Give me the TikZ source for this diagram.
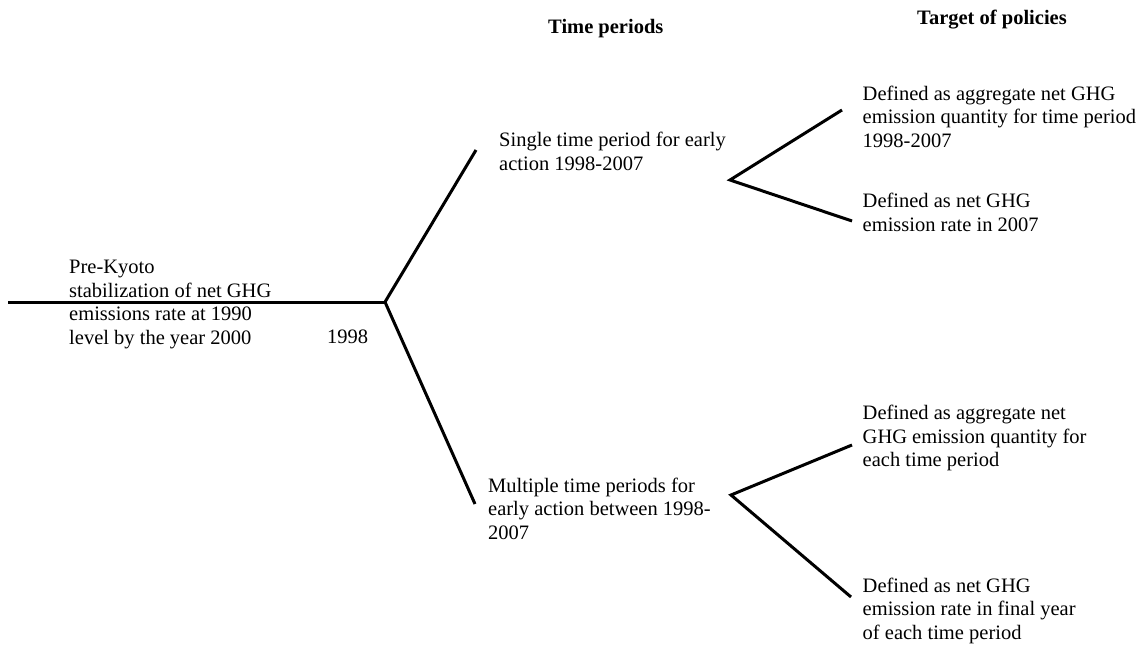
\documentclass[tikz,border=0pt]{standalone}
\usepackage{fontspec}
\setmainfont{Liberation Serif}
\begin{document}
\begin{tikzpicture}[x=1pt,y=-1pt,
  txt/.style={anchor=north west,inner sep=0pt,align=left,font=\fontsize{20.5}{23.5}\selectfont},
  head/.style={txt,font=\fontsize{20.5}{23.5}\selectfont\bfseries},
  branch/.style={line width=3pt,line join=miter}]
\useasboundingbox (0,0) rectangle (1140,647);
% headings
\node[head] (tp) at (548,19.5) {Time periods};
\node[head] (tg) at (917,9.5) {Target of policies};
% texts
\node[txt] (pk) at (69,260) {Pre-Kyoto\\stabilization of net GHG\\emissions rate at 1990\\level by the year 2000};
\node[txt] (yr) at (327,329.5) {1998};
\node[txt] (s1) at (499,132) {Single time period for early\\action 1998-2007};
\node[txt] (m1) at (488,477.5) {Multiple time periods for\\early action between 1998-\\2007};
\node[txt] (d1) at (862.5,85.5) {Defined as aggregate net GHG\\emission quantity for time period\\1998-2007};
\node[txt] (d2) at (862.5,193) {Defined as net GHG\\emission rate in 2007};
\node[txt] (d3) at (862.5,405) {Defined as aggregate net\\GHG emission quantity for\\each time period};
\node[txt] (d4) at (862.5,577.7) {Defined as net GHG\\emission rate in final year\\of each time period};
% tree coordinates
\coordinate (c0) at (8,302);
\coordinate (j0) at (385,302);
\coordinate (a) at (476,150);
\coordinate (b) at (475,504);
\coordinate (j1) at (730,180);
\coordinate (a1) at (842,110);
\coordinate (b1) at (852,221);
\coordinate (j2) at (731,495);
\coordinate (a2) at (852,445);
\coordinate (b2) at (851,597);
% connectors
\draw[branch] (c0) -- (j0);
\draw[branch] (a) -- (j0) -- (b);
\draw[branch] (a1) -- (j1) -- (b1);
\draw[branch] (a2) -- (j2) -- (b2);
\end{tikzpicture}
\end{document}
